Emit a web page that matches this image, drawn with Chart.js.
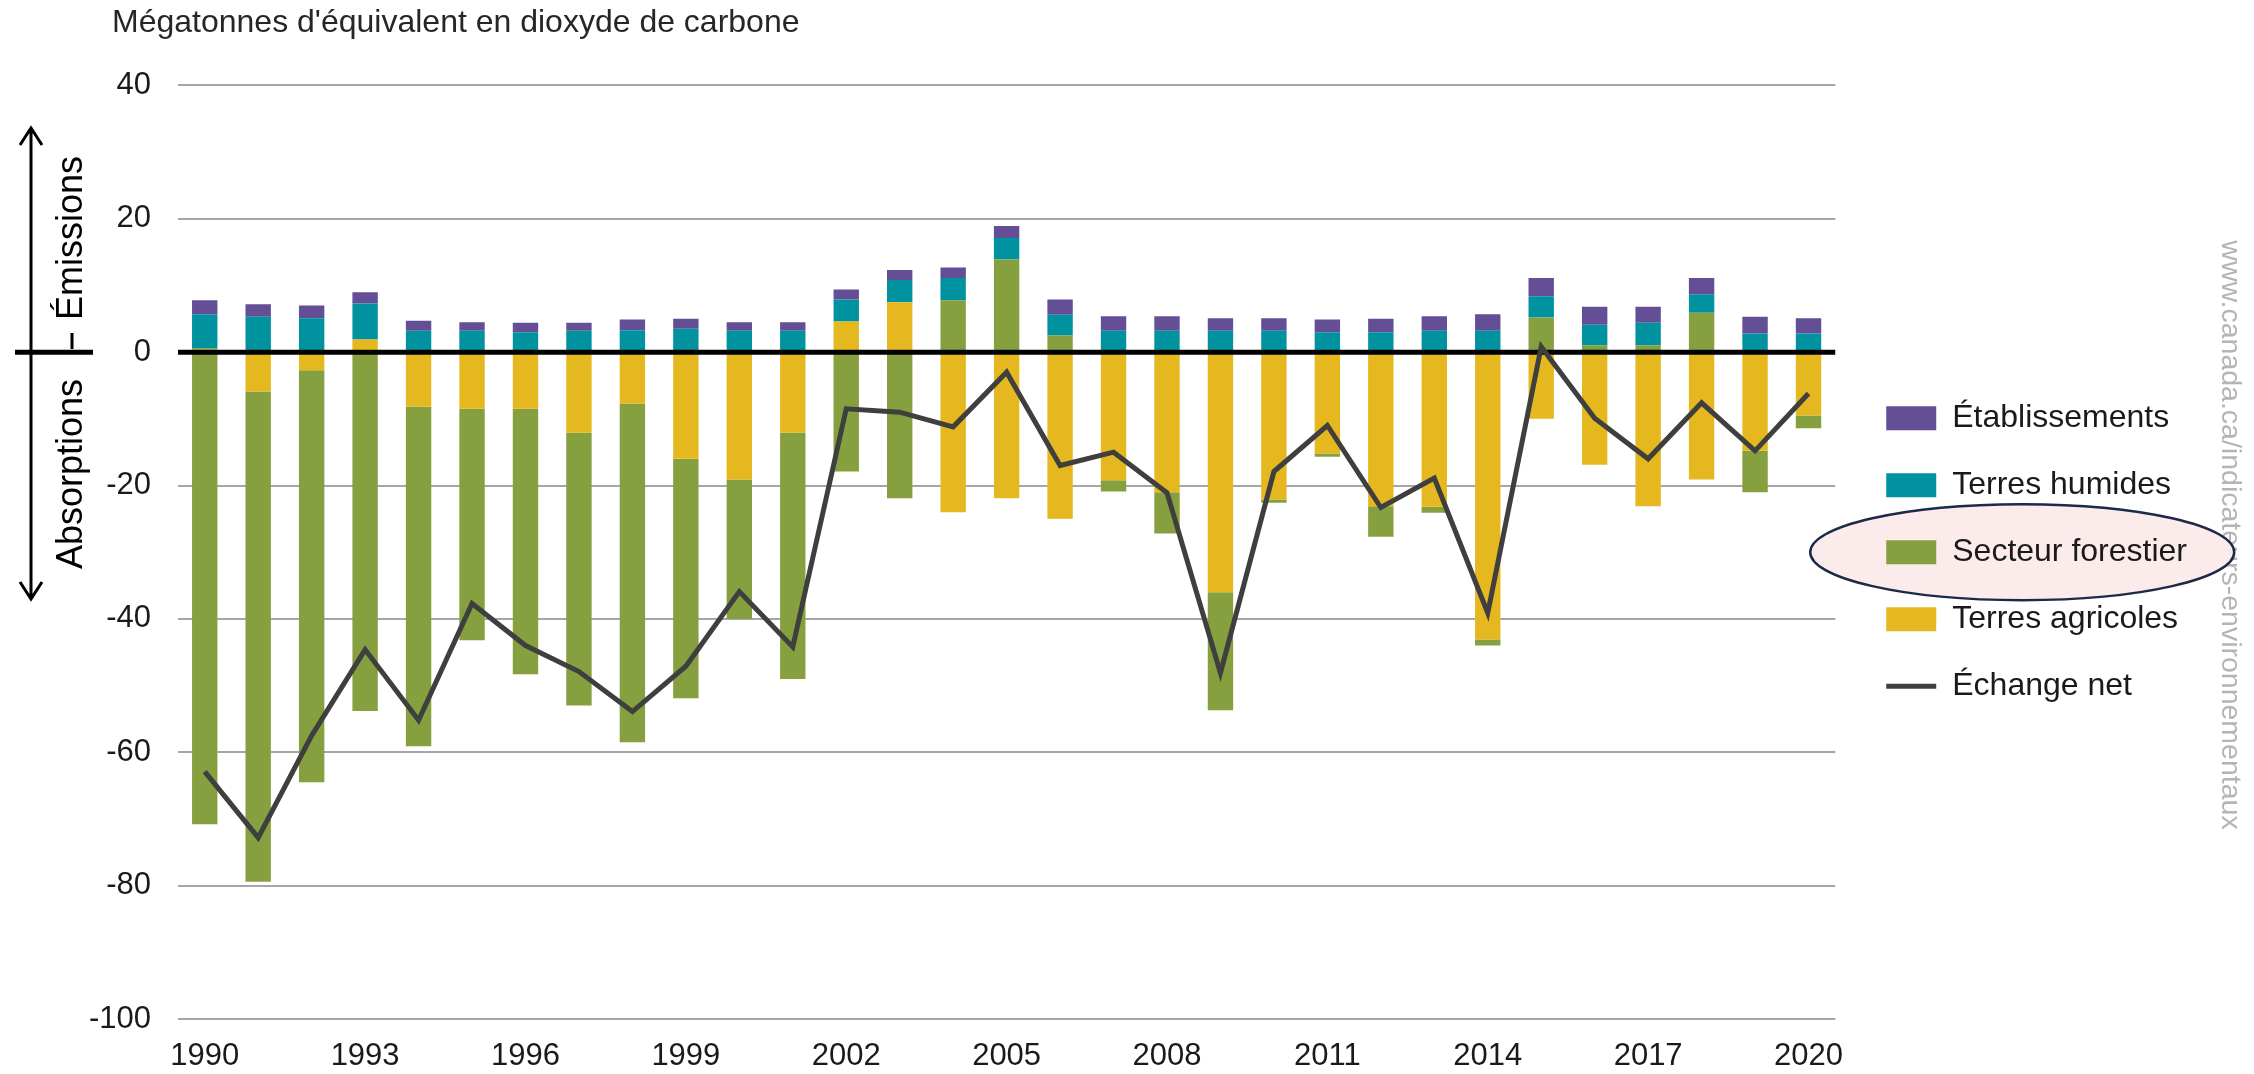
<!DOCTYPE html>
<html lang="fr">
<head>
<meta charset="utf-8">
<title>Émissions et absorptions — affectation des terres</title>
<script src="https://cdn.jsdelivr.net/npm/chart.js@4.4.1/dist/chart.umd.min.js"></script>
<style>
  html, body { margin: 0; padding: 0; background: #ffffff; }
  #wrap { width: 2254px; height: 1074px; }
</style>
</head>
<body>
<div id="wrap"><canvas id="chart" width="2254" height="1074"></canvas></div>
<script>
const years = ['1990', '1991', '1992', '1993', '1994', '1995', '1996', '1997', '1998', '1999',
    '2000', '2001', '2002', '2003', '2004', '2005', '2006', '2007', '2008', '2009',
    '2010', '2011', '2012', '2013', '2014', '2015', '2016', '2017', '2018', '2019', '2020'];
const shownYears = ['1990', '1993', '1996', '1999', '2002', '2005', '2008', '2011', '2014', '2017', '2020'];

// Mt éq. CO2
const etablissements = [2.1, 1.9, 1.9, 1.7, 1.5, 1.3, 1.4, 1.2, 1.6, 1.5,
    1.3, 1.3, 1.5, 1.5, 1.6, 1.8, 2.3, 2.2, 2.2, 1.9,
    1.9, 1.9, 2.0, 2.2, 2.5, 2.7, 2.7, 2.4, 2.4, 2.5, 2.3];
const terresHumides = [5.2, 5.3, 5.1, 5.4, 3.2, 3.2, 3.0, 3.2, 3.3, 3.5,
    3.2, 3.2, 3.3, 3.3, 3.3, 3.2, 3.1, 3.2, 3.2, 3.2,
    3.2, 3.0, 3.0, 3.2, 3.2, 3.2, 3.1, 3.4, 2.8, 2.8, 2.8];
const secteurForestier = [-70.8, -73.5, -61.8, -53.8, -50.9, -34.7, -39.8, -40.9, -50.8, -35.9,
    -20.9, -36.9, -17.9, -21.9, 7.8, 13.9, 2.5, -1.7, -6.2, -17.7,
    -0.5, -0.5, -4.6, -0.9, -0.9, 5.2, 1.0, 1.0, 5.9, -6.2, -1.9];
const terresAgricoles = [0.5, -5.9, -2.7, 1.9, -8.2, -8.5, -8.5, -12.1, -7.7, -16.0,
    -19.1, -12.1, 4.6, 7.5, -24.0, -21.9, -25.0, -19.2, -21.0, -36.0,
    -22.1, -15.2, -23.1, -23.2, -43.1, -10.0, -16.9, -23.1, -19.1, -14.8, -9.5];
const echangeNet = [-62.9, -72.8, -57.5, -44.6, -55.2, -37.7, -44.0, -47.9, -53.9, -47.1,
    -35.9, -44.2, -8.5, -9.0, -11.2, -3.0, -17.0, -15.0, -21.1, -48.1,
    -17.9, -11.0, -23.3, -18.9, -39.1, 0.8, -9.9, -16.0, -7.6, -14.8, -6.2];

const yMin = -100;
const yMax = 40;
const yStep = 20;

const FONT = "'Liberation Sans', Arial, sans-serif";
const TEXT = '#1a1a1a';
const LEGEND_SHIFT = 16;
const TITLE_SHIFT = 32;

// Flèches, mots « Émissions / Absorptions », filigrane et ellipse autour de la légende
const decorations = {
    id: 'decorations',
    afterLayout(chart) {
        chart.legend.left += LEGEND_SHIFT;
        chart.legend.right += LEGEND_SHIFT;
        chart.titleBlock.left += TITLE_SHIFT;
        chart.titleBlock.right += TITLE_SHIFT;
    },
    beforeDraw(chart) {
        const ctx = chart.ctx;
        ctx.save();
        ctx.translate(2230, 535);
        ctx.rotate(Math.PI / 2);
        ctx.font = `28.5px ${FONT}`;
        ctx.fillStyle = '#b5b5b5';
        ctx.textAlign = 'center';
        ctx.textBaseline = 'middle';
        ctx.fillText('www.canada.ca/indicateurs-environnementaux', 0, 0);
        ctx.restore();

        const legend = chart.legend;
        const idx = legend.legendItems.findIndex(it => it.text === 'Secteur forestier');
        const hb = legend.legendHitBoxes[idx];
        if (hb) {
            ctx.save();
            ctx.beginPath();
            ctx.ellipse(hb.left + 136, hb.top + hb.height / 2, 212, 48, 0, 0, Math.PI * 2);
            ctx.fillStyle = '#fcebeb';
            ctx.fill();
            ctx.lineWidth = 2.5;
            ctx.strokeStyle = '#1c2a4a';
            ctx.stroke();
            ctx.restore();
        }
    },
    beforeDatasetDraw(chart, args) {
        if (args.index !== 0) return;
        const {ctx, chartArea} = chart;
        const y0 = chart.scales.y.getPixelForValue(0);
        ctx.save();
        ctx.beginPath();
        ctx.moveTo(chartArea.left, y0);
        ctx.lineTo(chartArea.right, y0);
        ctx.lineWidth = 5;
        ctx.strokeStyle = '#000000';
        ctx.stroke();
        ctx.restore();
    },
    afterDraw(chart) {
        const ctx = chart.ctx;
        const y0 = chart.scales.y.getPixelForValue(0);
        ctx.save();
        ctx.strokeStyle = '#000000';
        ctx.lineCap = 'butt';
        ctx.lineWidth = 5;
        ctx.beginPath();
        ctx.moveTo(15, y0);
        ctx.lineTo(93, y0);
        ctx.stroke();

        ctx.lineWidth = 3;
        ctx.beginPath();
        ctx.moveTo(31, 128);
        ctx.lineTo(31, 599);
        ctx.moveTo(20, 145);
        ctx.lineTo(31, 128);
        ctx.lineTo(42, 145);
        ctx.moveTo(20, 582);
        ctx.lineTo(31, 599);
        ctx.lineTo(42, 582);
        ctx.moveTo(72, 333);
        ctx.lineTo(72, 349);
        ctx.stroke();

        ctx.fillStyle = '#000000';
        ctx.font = `36px ${FONT}`;
        ctx.textAlign = 'center';
        ctx.textBaseline = 'alphabetic';
        ctx.translate(82, 238);
        ctx.rotate(-Math.PI / 2);
        ctx.fillText('Émissions', 0, 0);
        ctx.rotate(Math.PI / 2);
        ctx.translate(0, 474 - 238);
        ctx.rotate(-Math.PI / 2);
        ctx.fillText('Absorptions', 0, 0);
        ctx.restore();
    }
};

const barStyle = { type: 'bar', stack: 'terres', borderWidth: 0, pointStyle: 'rect',
    barPercentage: 0.475, categoryPercentage: 1.0 };

new Chart(document.getElementById('chart'), {
    type: 'bar',
    data: {
        labels: years,
        datasets: [
            { type: 'line', label: 'Échange net', data: echangeNet, stack: 'net',
              borderColor: '#3f3f3f', backgroundColor: '#3f3f3f', borderWidth: 5,
              borderJoinStyle: 'miter', pointRadius: 0, tension: 0, fill: false },
            { ...barStyle, label: 'Terres agricoles', data: terresAgricoles, backgroundColor: '#e6b820' },
            { ...barStyle, label: 'Secteur forestier', data: secteurForestier, backgroundColor: '#86a03f' },
            { ...barStyle, label: 'Terres humides', data: terresHumides, backgroundColor: '#00939f' },
            { ...barStyle, label: 'Établissements', data: etablissements, backgroundColor: '#644e96' }
        ]
    },
    options: {
        responsive: false,
        animation: false,
        devicePixelRatio: 1,
        layout: { padding: { left: 80, right: 73, top: 0, bottom: 0 } },
        plugins: {
            title: {
                display: true,
                text: "Mégatonnes d'équivalent en dioxyde de carbone",
                align: 'start',
                color: '#262626',
                font: { family: FONT, size: 32, weight: 'normal' },
                padding: { top: 4, bottom: 43 }
            },
            legend: {
                position: 'right',
                fullSize: false,
                reverse: true,
                labels: {
                    usePointStyle: true,
                    pointStyleWidth: 50,
                    boxHeight: 24,
                    padding: 35,
                    color: TEXT,
                    font: { family: FONT, size: 32 },
                    generateLabels: chart => chart.data.datasets.map((ds, i) => ({
                        text: ds.label,
                        datasetIndex: i,
                        fillStyle: ds.backgroundColor,
                        strokeStyle: ds.type === 'line' ? ds.borderColor : ds.backgroundColor,
                        lineWidth: ds.type === 'line' ? ds.borderWidth : 0,
                        pointStyle: ds.type === 'line' ? 'line' : 'rect',
                        fontColor: TEXT,
                        hidden: false
                    }))
                }
            },
            tooltip: { enabled: false }
        },
        scales: {
            x: {
                stacked: true,
                afterFit: scale => { scale.height = 55; },
                grid: { display: false, drawTicks: false },
                border: { display: false },
                ticks: {
                    autoSkip: false,
                    maxRotation: 0,
                    padding: 19,
                    color: TEXT,
                    font: { family: FONT, size: 31 },
                    callback: function (value) {
                        const label = this.getLabelForValue(value);
                        return shownYears.includes(label) ? label : '';
                    }
                }
            },
            y: {
                stacked: true,
                min: yMin,
                max: yMax,
                afterFit: scale => { scale.width = 98; },
                border: { display: false },
                grid: {
                    drawTicks: false,
                    lineWidth: 2,
                    color: c => (c.tick && c.tick.value === 0) ? 'rgba(0,0,0,0)' : '#a6a6a6'
                },
                ticks: {
                    stepSize: yStep,
                    padding: 27,
                    color: TEXT,
                    font: { family: FONT, size: 31 }
                }
            }
        }
    },
    plugins: [decorations]
});
</script>
</body>
</html>
